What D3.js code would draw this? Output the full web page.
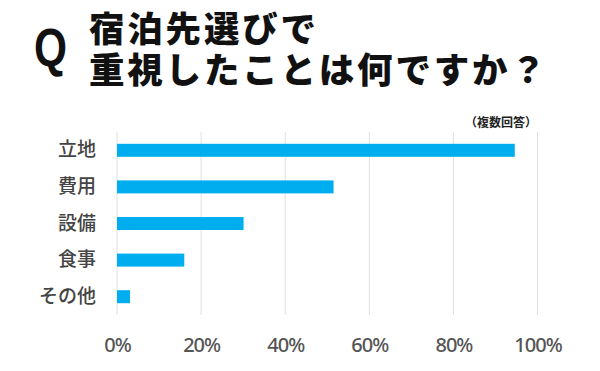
<!DOCTYPE html>
<html>
<head>
<meta charset="utf-8">
<script src="https://cdn.jsdelivr.net/npm/d3@7"></script>
<style>
  body { margin: 0; background: #fff; }
  svg { display: block; }
</style>
</head>
<body>
<svg id="chart"></svg>
<script>
// survey answers, percent of respondents (multiple answers allowed)
var categories = ["立地", "費用", "設備", "食事", "その他"];
var values = [94.6, 51.5, 30.1, 16.0, 3.1];
var ticks = [0, 20, 40, 60, 80, 100];
var titleLines = ["宿泊先選びで", "重視したことは何ですか？"];

var width = 600, height = 371;
var jp = "'Noto Sans CJK JP', 'Noto Sans', sans-serif";

var svg = d3.select("#chart").attr("width", width).attr("height", height);

// title block -- the Q is a condensed bold, so squeeze it a bit
svg.append("text")
  .attr("transform", "translate(34,66) scale(0.8,1)")
  .style("font-family", "'Liberation Sans', 'Noto Sans', sans-serif")
  .style("font-weight", 700)
  .style("font-size", "53px")
  .attr("fill", "#111")
  .text("Q");

// Liberation Sans first only for its tighter line box; glyphs fall back to CJK
svg.selectAll("text.title").data(titleLines).enter().append("text")
  .attr("class", "title")
  .attr("x", 89)
  .attr("y", function(d, i) { return 30 + i * 41; })
  .attr("dominant-baseline", "central")
  .style("font-family", "'Liberation Sans', 'Noto Sans CJK JP', sans-serif")
  .style("font-weight", 900)
  .style("font-size", "35.5px")
  .style("letter-spacing", "2.8px")
  .attr("fill", "#111")
  .text(function(d) { return d; });

svg.append("text")
  .attr("x", 537).attr("y", 121)
  .attr("text-anchor", "end")
  .attr("dominant-baseline", "central")
  .style("font-family", jp)
  .style("font-weight", 700)
  .style("font-size", "12px")
  .attr("fill", "#222")
  .text("（複数回答）");

// plot
var x = d3.scaleLinear().domain([0, 100]).range([117, 537.5]);
var y = d3.scaleBand().domain(categories).range([132, 315]).paddingInner(0.645).paddingOuter(0.3225);

var grid = svg.append("g");
grid.selectAll("line").data(ticks).enter().append("line")
  .attr("x1", function(d) { return x(d); })
  .attr("x2", function(d) { return x(d); })
  .attr("y1", 132).attr("y2", 315)
  .attr("stroke", "#e0e0e0")
  .attr("stroke-width", 1);

svg.append("g").selectAll("rect").data(values).enter().append("rect")
  .attr("x", x(0))
  .attr("y", function(d, i) { return y(categories[i]); })
  .attr("width", function(d) { return x(d) - x(0); })
  .attr("height", y.bandwidth())
  .attr("fill", "#00aeef");

// axes, then strip the default lines
var yAxis = svg.append("g")
  .attr("transform", "translate(" + (x(0) - 21) + ",0)")
  .call(d3.axisLeft(y).tickSize(0).tickPadding(0));
yAxis.select(".domain").remove();
yAxis.selectAll("text")
  .style("font-family", jp)
  .style("font-weight", 500)
  .style("font-size", "19px")
  .attr("fill", "#444");

var xAxis = svg.append("g")
  .attr("transform", "translate(0,345)")
  .call(d3.axisBottom(x).tickValues(ticks).tickSize(0).tickPadding(0)
    .tickFormat(function(d) { return d + "%"; }));
xAxis.select(".domain").remove();
xAxis.selectAll("text")
  .attr("dy", "0.35em")
  .style("font-family", "'Noto Sans', sans-serif")
  .style("font-weight", 500)
  .style("font-size", "20px")
  .style("letter-spacing", "-1px")
  .attr("fill", "#555");
</script>
</body>
</html>
